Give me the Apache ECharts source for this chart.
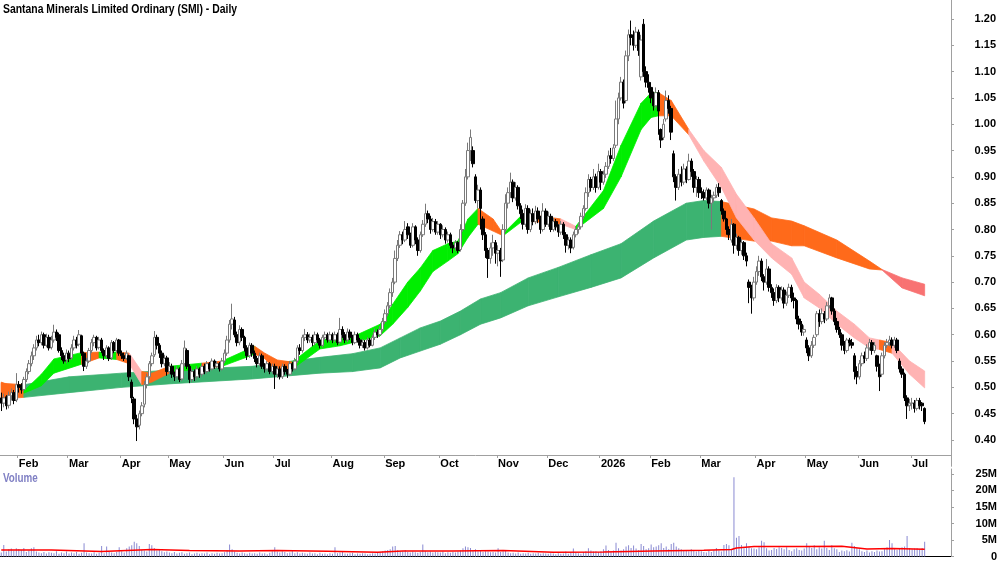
<!DOCTYPE html>
<html lang="en">
<head>
    <meta charset="UTF-8">
    <title>SMI - Daily</title>
    <script src="https://cdn.jsdelivr.net/npm/echarts@6/dist/echarts.min.js"></script>
    <style>
        html, body { margin: 0; padding: 0; background: #fff; }
        #main { width: 1000px; height: 562px; }
    </style>
</head>
<body>
<div id="main"></div>
<script type="text/javascript">
    // trading calendar (ASX), first bar 22 Jan 2025, last bar 8 Jul 2026, then empty slots
    var firstDay = '2025-01-22';
    var slotCount = 379;
    var holidays = ['2025-01-27', '2025-04-18', '2025-04-21', '2025-04-25', '2025-06-09',
        '2025-12-25', '2025-12-26', '2026-01-01', '2026-01-26', '2026-04-03', '2026-04-06', '2026-06-08'];
    var monthNames = ['2026', 'Feb', 'Mar', 'Apr', 'May', 'Jun', 'Jul', 'Aug', 'Sep', 'Oct', 'Nov', 'Dec'];
    var priceTicks = [0.40, 0.45, 0.50, 0.55, 0.60, 0.65, 0.70, 0.75, 0.80, 0.85, 0.90, 0.95, 1.00, 1.05, 1.10, 1.15, 1.20];
    var volumeTicks = [0, 5, 10, 15, 20, 25];

    // [open, close, low, high]
    var candles = [
        // Jan 25
        [0.480,0.470,0.455,0.490],[0.470,0.480,0.462,0.488],[0.482,0.465,0.458,0.485],[0.466,0.485,0.460,0.492],[0.484,0.490,0.475,0.498],[0.490,0.475,0.468,0.495],[0.476,0.505,0.472,0.527],
        // Feb
        [0.505,0.500,0.490,0.512],[0.500,0.495,0.488,0.508],[0.496,0.515,0.492,0.520],[0.515,0.530,0.510,0.536],[0.530,0.545,0.525,0.552],[0.545,0.560,0.540,0.568],[0.560,0.575,0.552,0.582],[0.575,0.590,0.570,0.598],[0.590,0.585,0.578,0.600],[0.585,0.600,0.580,0.606],
        [0.600,0.580,0.574,0.604],[0.580,0.595,0.576,0.602],[0.595,0.575,0.570,0.600],[0.576,0.590,0.572,0.598],[0.590,0.605,0.585,0.619],[0.605,0.595,0.588,0.610],[0.600,0.570,0.566,0.604],[0.570,0.560,0.552,0.576],[0.560,0.550,0.545,0.566],[0.552,0.565,0.546,0.572],
        // Mar
        [0.565,0.555,0.548,0.570],[0.556,0.575,0.552,0.582],[0.575,0.590,0.570,0.598],[0.590,0.580,0.574,0.596],[0.582,0.600,0.578,0.609],[0.598,0.565,0.560,0.600],[0.565,0.540,0.531,0.568],[0.540,0.550,0.535,0.556],[0.550,0.570,0.546,0.575],[0.570,0.585,0.565,0.592],
        [0.585,0.595,0.578,0.600],[0.595,0.575,0.570,0.598],[0.576,0.590,0.572,0.596],[0.590,0.570,0.565,0.594],[0.570,0.560,0.552,0.574],[0.560,0.575,0.556,0.580],[0.575,0.555,0.550,0.578],[0.556,0.585,0.552,0.590],[0.585,0.570,0.565,0.588],[0.570,0.590,0.566,0.594],[0.590,0.565,0.560,0.592],
        // Apr
        [0.565,0.560,0.554,0.570],[0.560,0.555,0.550,0.566],[0.555,0.565,0.552,0.570],[0.560,0.520,0.512,0.562],[0.510,0.480,0.470,0.515],[0.478,0.440,0.430,0.482],[0.440,0.425,0.398,0.448],[0.428,0.450,0.420,0.456],[0.450,0.465,0.445,0.472],[0.468,0.505,0.462,0.512],
        [0.505,0.520,0.498,0.526],[0.520,0.545,0.515,0.550],[0.545,0.560,0.540,0.566],[0.562,0.595,0.558,0.607],[0.595,0.580,0.572,0.600],[0.580,0.565,0.556,0.584],[0.565,0.545,0.538,0.570],[0.545,0.555,0.540,0.562],[0.556,0.530,0.522,0.560],
        // May
        [0.530,0.540,0.525,0.548],[0.540,0.525,0.518,0.545],[0.525,0.520,0.512,0.530],[0.520,0.535,0.515,0.540],[0.535,0.515,0.510,0.538],[0.516,0.545,0.512,0.552],[0.545,0.575,0.540,0.589],[0.570,0.540,0.535,0.574],[0.540,0.515,0.508,0.544],[0.515,0.530,0.510,0.536],[0.530,0.520,0.512,0.534],
        [0.520,0.535,0.515,0.540],[0.535,0.525,0.518,0.538],[0.525,0.540,0.520,0.546],[0.540,0.530,0.525,0.545],[0.530,0.545,0.526,0.550],[0.545,0.535,0.530,0.548],[0.535,0.550,0.532,0.555],[0.550,0.540,0.535,0.553],[0.540,0.545,0.536,0.550],[0.545,0.535,0.530,0.548],[0.535,0.550,0.532,0.556],
        // Jun
        [0.550,0.565,0.546,0.572],[0.565,0.590,0.560,0.598],[0.590,0.620,0.585,0.628],[0.620,0.630,0.610,0.659],[0.628,0.600,0.595,0.634],[0.600,0.585,0.578,0.606],[0.586,0.610,0.580,0.618],[0.610,0.595,0.588,0.614],[0.595,0.575,0.568,0.598],[0.575,0.560,0.552,0.580],
        [0.560,0.580,0.556,0.585],[0.580,0.565,0.558,0.584],[0.565,0.555,0.548,0.570],[0.555,0.545,0.538,0.560],[0.545,0.560,0.540,0.566],[0.560,0.540,0.535,0.564],[0.540,0.535,0.528,0.546],[0.535,0.545,0.530,0.550],[0.545,0.530,0.525,0.548],[0.530,0.540,0.526,0.545],
        // Jul
        [0.540,0.525,0.497,0.545],[0.525,0.535,0.518,0.540],[0.535,0.520,0.515,0.540],[0.520,0.540,0.516,0.545],[0.540,0.530,0.524,0.544],[0.530,0.525,0.518,0.535],[0.525,0.545,0.522,0.550],[0.545,0.535,0.530,0.548],[0.535,0.550,0.532,0.556],[0.550,0.575,0.546,0.580],[0.575,0.570,0.562,0.582],[0.570,0.595,0.566,0.600],
        [0.595,0.600,0.588,0.611],[0.600,0.590,0.584,0.605],[0.590,0.595,0.585,0.602],[0.595,0.585,0.578,0.600],[0.585,0.600,0.580,0.606],[0.600,0.590,0.584,0.604],[0.590,0.580,0.574,0.594],[0.580,0.595,0.576,0.600],[0.595,0.600,0.590,0.606],[0.600,0.590,0.585,0.604],[0.590,0.600,0.586,0.606],
        // Aug
        [0.600,0.590,0.584,0.604],[0.590,0.600,0.586,0.606],[0.600,0.585,0.580,0.604],[0.586,0.610,0.582,0.632],[0.610,0.600,0.594,0.616],[0.600,0.590,0.584,0.605],[0.590,0.605,0.586,0.612],[0.605,0.595,0.590,0.610],[0.595,0.585,0.580,0.600],[0.585,0.600,0.582,0.606],[0.600,0.590,0.585,0.604],
        [0.590,0.580,0.574,0.594],[0.580,0.585,0.575,0.592],[0.585,0.575,0.570,0.590],[0.575,0.590,0.572,0.595],[0.590,0.580,0.576,0.594],[0.580,0.595,0.578,0.600],[0.595,0.605,0.590,0.612],[0.605,0.600,0.594,0.610],[0.600,0.610,0.596,0.616],[0.610,0.625,0.606,0.632],
        // Sep
        [0.625,0.640,0.620,0.648],[0.640,0.655,0.635,0.662],[0.655,0.680,0.650,0.688],[0.680,0.700,0.672,0.708],[0.700,0.745,0.696,0.760],[0.745,0.770,0.740,0.780],[0.770,0.790,0.765,0.797],[0.790,0.780,0.772,0.796],[0.780,0.800,0.776,0.816],[0.805,0.790,0.782,0.812],[0.790,0.770,0.765,0.794],
        [0.770,0.805,0.766,0.812],[0.805,0.780,0.772,0.808],[0.780,0.760,0.750,0.785],[0.760,0.790,0.756,0.796],[0.790,0.810,0.786,0.818],[0.810,0.830,0.805,0.849],[0.830,0.820,0.812,0.836],[0.820,0.800,0.792,0.826],[0.800,0.815,0.796,0.822],[0.815,0.795,0.790,0.820],[0.795,0.810,0.790,0.816],
        // Oct
        [0.810,0.790,0.782,0.812],[0.790,0.800,0.785,0.808],[0.800,0.780,0.773,0.804],[0.780,0.790,0.775,0.796],[0.790,0.770,0.764,0.794],[0.770,0.765,0.755,0.776],[0.765,0.775,0.760,0.780],[0.775,0.760,0.755,0.778],[0.762,0.800,0.758,0.810],[0.800,0.850,0.796,0.856],[0.850,0.900,0.845,0.915],[0.900,0.950,0.895,0.965],
        [0.950,0.975,0.930,0.990],[0.950,0.925,0.918,0.958],[0.900,0.855,0.850,0.905],[0.855,0.875,0.840,0.885],[0.875,0.840,0.800,0.880],[0.820,0.790,0.780,0.825],[0.790,0.760,0.746,0.795],[0.760,0.745,0.708,0.765],[0.745,0.765,0.735,0.775],[0.765,0.775,0.750,0.790],[0.775,0.755,0.735,0.780],
        // Nov
        [0.755,0.760,0.730,0.770],[0.760,0.740,0.710,0.765],[0.742,0.800,0.738,0.810],[0.800,0.850,0.795,0.867],[0.850,0.870,0.840,0.880],[0.870,0.890,0.860,0.908],[0.890,0.860,0.852,0.895],[0.860,0.880,0.855,0.890],[0.880,0.845,0.838,0.884],[0.845,0.830,0.820,0.850],
        [0.830,0.810,0.800,0.838],[0.810,0.840,0.805,0.848],[0.840,0.800,0.792,0.846],[0.800,0.830,0.795,0.838],[0.830,0.815,0.808,0.840],[0.815,0.835,0.810,0.845],[0.835,0.820,0.812,0.842],[0.820,0.800,0.792,0.826],[0.800,0.835,0.796,0.850],[0.835,0.810,0.805,0.840],
        // Dec
        [0.810,0.825,0.805,0.834],[0.825,0.800,0.795,0.830],[0.800,0.815,0.796,0.822],[0.815,0.805,0.798,0.820],[0.805,0.795,0.786,0.810],[0.795,0.810,0.790,0.816],[0.810,0.790,0.782,0.814],[0.790,0.770,0.756,0.795],[0.770,0.780,0.762,0.786],[0.780,0.765,0.755,0.785],[0.766,0.790,0.762,0.796],
        [0.790,0.800,0.785,0.806],[0.800,0.805,0.792,0.812],[0.805,0.825,0.800,0.832],[0.825,0.840,0.820,0.846],[0.840,0.870,0.836,0.880],[0.870,0.895,0.862,0.905],[0.895,0.880,0.872,0.900],[0.880,0.900,0.875,0.915],[0.900,0.880,0.870,0.906],[0.880,0.910,0.876,0.925],
        // Jan 26
        [0.910,0.890,0.875,0.915],[0.890,0.905,0.885,0.912],[0.905,0.920,0.898,0.928],[0.920,0.940,0.915,0.950],[0.940,0.935,0.925,0.955],[0.935,0.955,0.930,0.962],[0.960,1.010,0.955,1.045],[1.010,1.050,1.000,1.060],[1.050,1.080,1.045,1.090],[1.080,1.040,1.030,1.085],
        [1.045,1.130,1.040,1.140],[1.130,1.170,1.120,1.180],[1.170,1.165,1.150,1.197],[1.165,1.150,1.140,1.178],[1.150,1.175,1.145,1.185],[1.175,1.140,1.130,1.180],[1.090,1.160,1.083,1.170],[1.190,1.100,1.090,1.200],[1.100,1.080,1.070,1.110],[1.080,1.070,1.060,1.095],
        // Feb
        [1.070,1.050,1.040,1.080],[1.050,1.035,1.026,1.062],[1.035,1.060,1.030,1.070],[1.060,1.025,0.980,1.065],[0.990,0.970,0.955,0.992],[0.975,1.000,0.970,1.010],[1.010,1.045,1.005,1.064],[1.045,1.030,1.020,1.055],[1.030,0.985,0.970,1.035],[0.944,0.900,0.890,0.950],
        [0.900,0.880,0.855,0.905],[0.880,0.905,0.875,0.915],[0.905,0.890,0.882,0.920],[0.890,0.915,0.885,0.925],[0.915,0.895,0.888,0.920],[0.895,0.930,0.893,0.944],[0.930,0.910,0.900,0.935],[0.910,0.880,0.870,0.915],[0.880,0.895,0.862,0.902],[0.895,0.870,0.860,0.900],
        // Mar
        [0.872,0.870,0.858,0.880],[0.870,0.860,0.855,0.876],[0.860,0.875,0.856,0.880],[0.875,0.850,0.840,0.878],[0.850,0.860,0.800,0.866],[0.860,0.865,0.852,0.872],[0.865,0.880,0.860,0.886],[0.880,0.870,0.862,0.888],[0.855,0.835,0.828,0.858],[0.835,0.820,0.815,0.840],[0.820,0.800,0.790,0.822],
        [0.800,0.790,0.780,0.806],[0.780,0.810,0.775,0.820],[0.810,0.770,0.754,0.812],[0.770,0.785,0.762,0.792],[0.785,0.760,0.750,0.788],[0.760,0.775,0.752,0.782],[0.775,0.750,0.742,0.778],[0.750,0.740,0.730,0.756],[0.700,0.690,0.660,0.705],[0.690,0.670,0.640,0.695],[0.670,0.700,0.665,0.710],
        // Apr
        [0.700,0.720,0.695,0.730],[0.720,0.740,0.712,0.750],[0.740,0.710,0.702,0.745],[0.710,0.700,0.684,0.715],[0.700,0.725,0.695,0.744],[0.725,0.690,0.682,0.730],[0.690,0.680,0.670,0.696],[0.680,0.665,0.655,0.688],[0.665,0.690,0.660,0.696],[0.690,0.670,0.662,0.694],
        [0.670,0.685,0.665,0.692],[0.685,0.660,0.650,0.690],[0.660,0.675,0.655,0.682],[0.675,0.690,0.670,0.697],[0.690,0.670,0.662,0.695],[0.670,0.665,0.650,0.680],[0.665,0.630,0.620,0.668],[0.630,0.620,0.610,0.636],[0.620,0.605,0.598,0.626],[0.605,0.610,0.598,0.618],
        // May
        [0.590,0.575,0.565,0.595],[0.575,0.560,0.550,0.580],[0.560,0.580,0.556,0.588],[0.580,0.595,0.575,0.600],[0.600,0.640,0.596,0.645],[0.640,0.625,0.615,0.648],[0.625,0.640,0.620,0.650],[0.640,0.630,0.622,0.645],[0.630,0.655,0.626,0.662],[0.655,0.670,0.650,0.677],[0.670,0.645,0.638,0.672],
        [0.645,0.625,0.618,0.650],[0.625,0.610,0.604,0.632],[0.610,0.600,0.594,0.615],[0.600,0.580,0.570,0.604],[0.580,0.570,0.563,0.588],[0.570,0.590,0.566,0.594],[0.590,0.585,0.578,0.594],[0.585,0.580,0.574,0.592],[0.560,0.530,0.515,0.565],[0.530,0.520,0.506,0.540],
        // Jun
        [0.520,0.545,0.515,0.552],[0.545,0.560,0.540,0.566],[0.560,0.555,0.546,0.568],[0.555,0.575,0.550,0.582],[0.575,0.585,0.570,0.592],[0.585,0.570,0.562,0.590],[0.570,0.580,0.565,0.586],[0.560,0.540,0.530,0.562],[0.540,0.520,0.493,0.545],[0.525,0.560,0.520,0.566],[0.560,0.580,0.555,0.586],
        [0.580,0.585,0.575,0.592],[0.585,0.590,0.578,0.598],[0.590,0.580,0.574,0.595],[0.580,0.590,0.575,0.596],[0.590,0.570,0.565,0.594],[0.550,0.535,0.528,0.555],[0.535,0.525,0.518,0.540],[0.525,0.480,0.474,0.528],[0.480,0.465,0.440,0.485],[0.465,0.470,0.455,0.478],
        // Jul 26
        [0.470,0.470,0.458,0.480],[0.470,0.460,0.452,0.476],[0.460,0.475,0.456,0.480],[0.475,0.465,0.458,0.480],[0.470,0.465,0.455,0.472],[0.460,0.435,0.430,0.462]
    ];

    // daily volume, millions
    var volumes = [
        1.2, 3.5, 1.5, 2.2, 2.4, 1.8, 2.5,
        2.3, 2.0, 2.6, 1.4, 1.8, 2.5, 2.8, 1.5, 1.2, 1.0, 1.4, 0.9, 1.3, 1.1, 1.0, 1.6, 0.8, 1.2, 1.0, 1.5,
        0.9, 1.2, 1.0, 1.4, 0.8, 1.1, 4.0, 1.2, 1.0, 0.9, 1.3, 0.8, 1.1, 3.2, 1.0, 3.0, 1.5, 1.2, 1.0, 1.4, 2.8,
        1.6, 1.2, 2.5, 3.0, 3.4, 4.5, 4.0, 3.2, 2.0, 1.8, 1.5, 3.8, 3.4, 2.6, 1.8, 2.2, 1.6, 1.3, 1.5,
        1.2, 1.0, 1.4, 0.9, 1.1, 1.3, 0.8, 1.0, 1.2, 0.7, 0.9, 1.1, 0.8, 1.0, 0.9, 1.2, 0.7, 1.0, 0.8, 1.1, 0.9, 1.0,
        1.3, 2.0, 3.6, 2.2, 1.5, 1.1, 0.9, 1.2, 1.0, 0.8, 1.1, 0.9, 1.0, 0.8, 1.2, 0.9, 1.0, 0.7, 1.1, 1.6,
        2.8, 1.5, 1.2, 1.6, 1.4, 1.0, 1.2, 1.8, 1.0, 1.3, 0.9, 1.1, 1.0, 0.8, 1.2, 0.9, 1.0, 0.7, 1.1, 0.8, 0.9, 0.7, 1.0,
        0.8, 2.8, 1.0, 1.2, 1.6, 0.9, 0.8, 1.0, 1.1, 0.7, 0.9, 0.8, 1.0, 0.9, 0.7, 0.8, 1.0, 0.9, 1.1, 1.3, 1.6,
        1.8, 2.0, 2.2, 3.0, 3.2, 2.0, 1.5, 1.6, 2.0, 1.4, 1.2, 1.5, 1.3, 1.1, 1.4, 3.6, 1.6, 1.3, 1.5, 1.2, 1.4, 1.3,
        1.2, 1.5, 1.0, 1.3, 1.1, 1.4, 1.2, 1.5, 1.8, 2.5, 3.0, 2.8, 2.6, 1.9, 2.2, 1.6, 1.8, 1.4, 1.6, 1.5, 1.3, 1.4, 1.2,
        2.5, 1.4, 1.6, 1.8, 1.2, 1.0, 1.1, 0.9, 1.2, 0.8, 1.0, 0.9, 1.1, 0.8, 1.0, 0.9, 1.1, 0.8, 1.0, 0.9,
        0.8, 1.0, 0.9, 0.7, 1.0, 0.8, 0.9, 1.5, 0.8, 1.3, 2.4, 1.2, 1.0, 0.8, 1.4, 1.6, 2.5, 1.8, 1.5, 1.6, 1.4,
        1.6, 2.2, 3.3, 2.0, 1.5, 1.8, 4.2, 2.5, 1.8, 2.2, 3.0, 3.4, 2.6, 3.3, 2.4, 2.0, 3.8, 3.2, 2.2, 2.5,
        3.6, 2.8, 3.0, 3.4, 4.0, 2.6, 3.0, 2.2, 3.8, 4.2, 3.0, 2.5, 2.2, 2.0, 1.8, 1.6, 2.2, 1.8, 1.5, 1.8,
        1.6, 1.4, 1.2, 1.8, 1.4, 2.0, 2.6, 1.8, 1.5, 3.5, 3.8, 3.4, 2.2, 24.0, 5.7, 6.2, 3.5, 2.5, 4.0, 3.0, 2.5, 2.4,
        2.2, 2.8, 4.8, 4.3, 2.5, 1.8, 2.0, 2.6, 2.3, 2.8, 2.6, 2.2, 2.8, 2.0, 1.6, 2.2, 2.5, 2.0, 1.8, 2.4,
        4.0, 3.2, 2.6, 3.4, 2.2, 2.8, 2.4, 4.8, 2.6, 2.0, 3.4, 2.5, 2.2, 1.4, 1.8, 1.6, 1.9, 1.5, 4.2, 3.2, 2.5,
        2.2, 1.6, 1.4, 1.8, 1.2, 1.6, 1.4, 1.8, 1.5, 1.6, 2.2, 2.8, 5.0, 4.0, 2.2, 2.0, 2.5, 2.8, 3.0, 6.2, 2.6,
        2.2, 2.4, 2.5, 2.2, 2.6, 4.5
    ];

    // volume average line, [bar index, millions]
    var volumeAvg = [[0, 2.0], [20, 2.0], [40, 1.5], [60, 2.1], [75, 1.8], [95, 1.7], [110, 1.8], [130, 1.6],
        [150, 1.3], [160, 1.7], [180, 1.7], [200, 1.8], [220, 1.3], [240, 1.4], [260, 1.7], [280, 1.9],
        [291, 2.1], [293, 2.6], [300, 3.0], [320, 3.0], [335, 3.1], [345, 2.3], [355, 2.4], [368, 2.2]];

    // long term ribbon [bar index, bottom, top] and its trend state per segment
    var longBand = [[0, 0.478, 0.508], [9, 0.481, 0.505], [27, 0.490, 0.520], [48, 0.500, 0.527], [68, 0.507, 0.533],
        [100, 0.516, 0.540], [127, 0.527, 0.557], [140, 0.530, 0.564], [151, 0.537, 0.575], [159, 0.556, 0.594],
        [167, 0.569, 0.613], [175, 0.582, 0.626], [183, 0.600, 0.645], [191, 0.620, 0.668], [199, 0.632, 0.680],
        [210, 0.655, 0.708], [222, 0.672, 0.728], [235, 0.690, 0.752], [247, 0.708, 0.773], [260, 0.746, 0.816],
        [273, 0.780, 0.850], [280, 0.785, 0.855], [287, 0.787, 0.853], [300, 0.778, 0.839], [307, 0.778, 0.822],
        [315, 0.769, 0.816], [320, 0.769, 0.807], [333, 0.746, 0.780], [346, 0.725, 0.740], [351, 0.723, 0.724],
        [359, 0.689, 0.708], [368, 0.674, 0.696]];
    var longState = ['cross', 'rise', 'rise', 'rise', 'rise', 'rise', 'rise', 'rise', 'rise', 'rise',
        'rise', 'rise', 'rise', 'rise', 'rise', 'rise', 'rise', 'rise', 'rise', 'rise',
        'rise', 'rise', 'cross', 'cross', 'cross', 'cross', 'cross', 'cross', 'cross', 'fall',
        'fall', 'fall'];

    // short term ribbon
    var shortBand = [[0, 0.480, 0.510], [9, 0.489, 0.493], [16, 0.503, 0.525], [21, 0.527, 0.554], [32, 0.544, 0.566],
        [39, 0.556, 0.567], [46, 0.553, 0.567], [51, 0.545, 0.565], [56, 0.505, 0.530], [60, 0.510, 0.527],
        [67, 0.527, 0.540], [80, 0.537, 0.546], [88, 0.540, 0.550], [101, 0.563, 0.578], [105, 0.555, 0.565],
        [110, 0.528, 0.552], [116, 0.535, 0.548], [127, 0.573, 0.589], [135, 0.579, 0.598], [140, 0.585, 0.596],
        [151, 0.598, 0.620], [156, 0.620, 0.658], [162, 0.652, 0.700], [167, 0.683, 0.727], [172, 0.720, 0.760],
        [178, 0.740, 0.773], [182, 0.754, 0.778], [186, 0.785, 0.820], [190, 0.810, 0.840], [196, 0.797, 0.820],
        [200, 0.788, 0.792], [208, 0.817, 0.830], [223, 0.810, 0.820], [229, 0.800, 0.806], [240, 0.840, 0.874],
        [247, 0.900, 0.960], [255, 0.990, 1.040], [259, 1.013, 1.060], [262, 1.016, 1.060], [267, 1.016, 1.045],
        [274, 0.980, 0.990], [280, 0.930, 0.950], [287, 0.880, 0.918], [293, 0.822, 0.867], [300, 0.780, 0.822],
        [307, 0.746, 0.773], [315, 0.715, 0.746], [320, 0.670, 0.700], [326, 0.651, 0.677], [333, 0.620, 0.645],
        [340, 0.594, 0.620], [346, 0.575, 0.594], [350, 0.572, 0.590], [355, 0.565, 0.585], [362, 0.525, 0.550],
        [368, 0.499, 0.531]];
    var shortState = ['cross', 'rise', 'rise', 'rise', 'cross', 'rise', 'cross', 'fall', 'cross', 'cross',
        'rise', 'cross', 'rise', 'cross', 'cross', 'cross', 'rise', 'rise', 'rise', 'rise',
        'rise', 'rise', 'rise', 'rise', 'rise', 'rise', 'rise', 'rise', 'cross', 'cross',
        'rise', 'cross', 'fall', 'rise', 'rise', 'rise', 'rise', 'rise', 'cross', 'cross',
        'fall', 'fall', 'fall', 'fall', 'fall', 'fall', 'fall', 'fall', 'fall', 'fall',
        'fall', 'fall', 'cross', 'fall', 'fall', 'fall'];

    var longColors = { rise: '#3cb371', cross: '#ff6a1a', fall: '#f87272' };
    var shortColors = { rise: '#00ee00', cross: '#ff6a1a', fall: '#ffb3b3' };

    // build the trading day categories
    var dates = [];
    var d = new Date(firstDay + 'T00:00:00Z');
    while (dates.length < slotCount) {
        var s = d.toISOString().slice(0, 10);
        var wd = d.getUTCDay();
        if (wd !== 0 && wd !== 6 && holidays.indexOf(s) < 0) {
            dates.push(s);
        }
        d.setUTCDate(d.getUTCDate() + 1);
    }
    function isMonthStart(idx) {
        return idx > 0 && dates[idx].slice(5, 7) !== dates[idx - 1].slice(5, 7);
    }

    var font = "'Liberation Sans', Arial, sans-serif";

    function bandSeries(points, states, colors) {
        return {
            type: 'custom',
            xAxisIndex: 0,
            yAxisIndex: 0,
            silent: true,
            clip: true,
            z: 1,
            data: points,
            renderItem: function (params, api) {
                var k = params.dataIndex;
                if (k >= points.length - 1) {
                    return null;
                }
                var a = points[k], b = points[k + 1];
                var c = colors[states[k]];
                return {
                    type: 'polygon',
                    shape: {
                        points: [api.coord([a[0], a[1]]), api.coord([b[0], b[1]]),
                            api.coord([b[0], b[2]]), api.coord([a[0], a[2]])]
                    },
                    style: { fill: c, stroke: c, lineWidth: 0.8 }
                };
            }
        };
    }

    var myChart = echarts.init(document.getElementById('main'));

    var option = {
        animation: false,
        backgroundColor: '#ffffff',
        // narrow bold captions like the original
        graphic: [
            {
                type: 'text',
                x: 3,
                y: 3,
                scaleX: 0.8,
                style: { text: 'Santana Minerals Limited Ordinary (SMI) - Daily', font: 'bold 13px ' + font, fill: '#000' }
            },
            {
                type: 'text',
                x: 3,
                y: 473,
                scaleX: 0.82,
                style: { text: 'Volume', font: 'bold 12px ' + font, fill: '#8080c4' }
            }
        ],
        grid: [
            { left: -1, right: 49, top: 0, height: 466.3 },
            { left: -1, right: 49, top: 469, height: 90 }
        ],
        xAxis: [
            {
                type: 'category',
                gridIndex: 0,
                data: dates,
                boundaryGap: true,
                position: 'bottom',
                offset: -11.3,
                axisLine: { lineStyle: { color: '#a0a0a0', width: 1 } },
                axisTick: {
                    show: true,
                    length: 3,
                    interval: function (idx) { return isMonthStart(idx); },
                    lineStyle: { color: '#a0a0a0' }
                },
                axisLabel: {
                    interval: function (idx) { return isMonthStart(idx); },
                    formatter: function (val) { return monthNames[parseInt(val.slice(5, 7), 10) - 1]; },
                    align: 'left',
                    margin: 3,
                    fontFamily: font,
                    fontSize: 11,
                    fontWeight: 'bold',
                    color: '#000'
                },
                splitLine: { show: false }
            },
            {
                type: 'category',
                gridIndex: 1,
                data: dates,
                boundaryGap: true,
                position: 'top',
                axisLine: { lineStyle: { color: '#000', width: 1 } },
                axisTick: { show: false },
                axisLabel: { show: false },
                splitLine: { show: false }
            }
        ],
        yAxis: [
            {
                type: 'value',
                gridIndex: 0,
                position: 'right',
                min: 0.35,
                max: 1.2361,
                interval: 0.05,
                axisLine: { show: true, lineStyle: { color: '#a0a0a0' } },
                axisTick: { show: true, length: 3, lineStyle: { color: '#a0a0a0' } },
                axisLabel: {
                    showMinLabel: false,
                    showMaxLabel: false,
                    align: 'right',
                    margin: 45,
                    fontFamily: font,
                    fontSize: 11,
                    fontWeight: 'bold',
                    color: '#000',
                    formatter: function (v) {
                        var t = Math.round(v * 100) / 100;
                        return priceTicks.indexOf(t) >= 0 ? t.toFixed(2) : '';
                    }
                },
                splitLine: { show: false }
            },
            {
                type: 'value',
                gridIndex: 1,
                position: 'right',
                min: 0,
                max: 26.5,
                interval: 5,
                axisLine: { show: true, lineStyle: { color: '#a0a0a0' } },
                axisTick: { show: true, length: 3, lineStyle: { color: '#a0a0a0' } },
                axisLabel: {
                    showMaxLabel: false,
                    align: 'right',
                    margin: 46,
                    fontFamily: font,
                    fontSize: 11,
                    fontWeight: 'bold',
                    color: '#000',
                    formatter: function (v) {
                        if (volumeTicks.indexOf(v) < 0) return '';
                        return v === 0 ? '0' : v + 'M';
                    }
                },
                splitLine: { show: false }
            }
        ],
        series: [
            bandSeries(longBand, longState, longColors),
            bandSeries(shortBand, shortState, shortColors),
            {
                name: 'SMI',
                type: 'candlestick',
                xAxisIndex: 0,
                yAxisIndex: 0,
                z: 3,
                barWidth: 3,
                data: candles,
                itemStyle: {
                    color: '#ffffff',
                    color0: '#000000',
                    borderColor: '#7a7a7a',
                    borderColor0: '#000000',
                    borderWidth: 1
                }
            },
            {
                name: 'Volume',
                type: 'bar',
                xAxisIndex: 1,
                yAxisIndex: 1,
                barWidth: 1,
                data: volumes,
                itemStyle: { color: '#8a8ad2' }
            },
            {
                name: 'Volume avg',
                type: 'line',
                xAxisIndex: 1,
                yAxisIndex: 1,
                symbol: 'none',
                data: volumeAvg,
                lineStyle: { color: '#ff0000', width: 1.5 }
            }
        ]
    };

    myChart.setOption(option);
</script>
</body>
</html>
